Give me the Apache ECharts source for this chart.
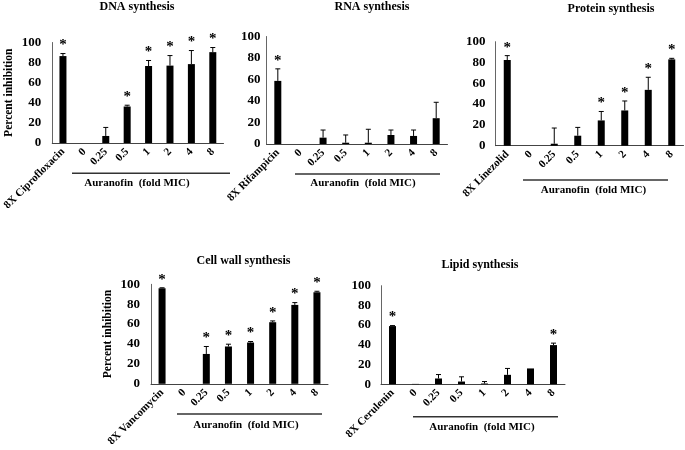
<!DOCTYPE html>
<html><head><meta charset="utf-8">
<script src="https://cdn.jsdelivr.net/npm/echarts@6/dist/echarts.min.js"></script>
<style>html,body{margin:0;padding:0;background:#fff}#c{width:685px;height:450px}</style>
</head><body><div id="c"></div>
<script>
var doses = ['0', '0.25', '0.5', '1', '2', '4', '8'];
var controls = ['8X Ciprofloxacin', '8X Rifampicin', '8X Linezolid', '8X Vancomycin', '8X Cerulenin'];
var titles = ['DNA synthesis', 'RNA synthesis', 'Protein synthesis', 'Cell wall synthesis', 'Lipid synthesis'];
var yTicks = [0, 20, 40, 60, 80, 100];
var groupLabel = 'Auranofin  (fold MIC)';
var yName = 'Percent inhibition';

var dnaMean = [86.5, 0, 7, 36.3, 76.6, 77, 78.5, 90.4];
var dnaErr  = [2.5, 0, 8.5, 1.3, 5.5, 10, 13.5, 4.6];
var dnaSig  = [1, 0, 0, 1, 1, 1, 1, 1];

var rnaMean = [58.7, 0, 5.9, 1.2, 1.2, 8.4, 7.5, 24];
var rnaErr  = [11.2, 0, 7.1, 7.2, 12.5, 4.6, 5.5, 14.8];
var rnaSig  = [1, 0, 0, 0, 0, 0, 0, 0];

var protMean = [82.4, 0, 1.9, 9.6, 24.3, 33.9, 53.7, 83];
var protErr  = [4.2, 0, 15.1, 8, 8.6, 9.1, 12.1, 1];
var protSig  = [1, 0, 0, 0, 1, 1, 1, 1];

var wallMean = [96, 0, 30, 37.5, 41.5, 61.9, 79.3, 92];
var wallErr  = [0.5, 0, 7.5, 2.3, 1, 1.3, 2.3, 1];
var wallSig  = [1, 0, 1, 1, 1, 1, 1, 1];

var lipMean = [59, 0.3, 5.8, 2.7, 0.7, 9.5, 16, 39.7];
var lipErr  = [0.5, 0, 4, 4.8, 2, 6.5, 0, 2];
var lipSig  = [1, 0, 0, 0, 0, 0, 0, 1];

var means = [dnaMean, rnaMean, protMean, wallMean, lipMean];
var errs = [dnaErr, rnaErr, protErr, wallErr, lipErr];
var sigs = [dnaSig, rnaSig, protSig, wallSig, lipSig];

var FONT = '"Liberation Serif", "Times New Roman", serif';

var layout = [
  {grid: {left: 49.5, top: 42.5, width: 174, height: 100.5}, labelMargin: 11, title: {x: 137, y: 1},
   line: [72, 230, 173.3], group: [137, 183.5], yName: true},
  {grid: {left: 266.5, top: 36.5, width: 181, height: 107.5}, labelMargin: 6, title: {x: 372, y: 1},
   line: [295, 440, 174], group: [363, 183.5], yName: false},
  {grid: {left: 495.5, top: 41.7, width: 188, height: 104}, labelMargin: 10, title: {x: 611, y: 3},
   line: [523, 668, 180], group: [593.5, 190], yName: false},
  {grid: {left: 151, top: 284.3, width: 177, height: 99.5}, labelMargin: 11, title: {x: 243.5, y: 255},
   line: [177, 322, 414], group: [246, 425], yName: true},
  {grid: {left: 381, top: 285.7, width: 184, height: 98.5}, labelMargin: 10, title: {x: 480, y: 258.5},
   line: [413, 558, 416.7], group: [482, 427], yName: false}
];

var grid = [], xAxis = [], yAxis = [], series = [], title = [], graphic = [];
layout.forEach(function (L, i) {
  grid.push(L.grid);
  title.push({text: titles[i], left: L.title.x, top: L.title.y, textAlign: 'center', padding: 0,
    textStyle: {fontFamily: FONT, fontWeight: 'bold', fontSize: 12, color: '#000'}});
  xAxis.push({type: 'category', gridIndex: i, data: [controls[i]].concat(doses),
    axisLine: {lineStyle: {color: '#444', width: 1}}, axisTick: {show: false},
    axisLabel: {rotate: 45, interval: 0, margin: 7, fontFamily: FONT, fontWeight: 'bold', fontSize: 11, color: '#000'}});
  yAxis.push({type: 'value', gridIndex: i, min: 0, max: 100, interval: 20,
    name: L.yName ? yName : '', nameLocation: 'middle', nameGap: 37, nameRotate: 90,
    nameTextStyle: {fontFamily: FONT, fontWeight: 'bold', fontSize: 11.5, color: '#000'},
    axisLine: {show: true, lineStyle: {color: '#666', width: 1}}, axisTick: {show: false}, splitLine: {show: false},
    axisLabel: {margin: L.labelMargin, fontFamily: FONT, fontWeight: 'bold', fontSize: 13, color: '#000',
      formatter: function (v) { return yTicks.indexOf(v) >= 0 ? String(v) : ''; }}});
  series.push({type: 'bar', xAxisIndex: i, yAxisIndex: i, data: means[i], barWidth: 7,
    itemStyle: {color: '#000'}, silent: true, animation: false});
  var ed = means[i].map(function (m, k) { return [k, m, errs[i][k], sigs[i][k]]; });
  series.push({type: 'custom', xAxisIndex: i, yAxisIndex: i, data: ed, animation: false, silent: true,
    renderItem: function (params, api) {
      var k = api.value(0), m = api.value(1), e = api.value(2), s = api.value(3);
      var p0 = api.coord([k, m]), p1 = api.coord([k, m + e]);
      var ch = [];
      if (e > 0) {
        ch.push({type: 'line', shape: {x1: p0[0], y1: p0[1], x2: p1[0], y2: p1[1]}, style: {stroke: '#000', lineWidth: 1}});
        ch.push({type: 'line', shape: {x1: p1[0] - 2.5, y1: p1[1], x2: p1[0] + 2.5, y2: p1[1]}, style: {stroke: '#000', lineWidth: 1}});
      }
      if (s) {
        ch.push({type: 'text', style: {text: '*', x: p1[0], y: p1[1] - 8, align: 'center', verticalAlign: 'middle',
          font: 'bold 15px ' + FONT, fill: '#000'}});
      }
      return {type: 'group', children: ch};
    }});
  graphic.push({type: 'line', shape: {x1: L.line[0], y1: L.line[2], x2: L.line[1], y2: L.line[2]},
    style: {stroke: '#333', lineWidth: 1.5}});
  graphic.push({type: 'text', x: L.group[0], y: L.group[1],
    style: {text: groupLabel, align: 'center', verticalAlign: 'middle', font: 'bold 11px ' + FONT, fill: '#000'}});
});

var chart = echarts.init(document.getElementById('c'), null, {renderer: 'canvas'});
chart.setOption({backgroundColor: '#fff', animation: false, title: title, grid: grid, xAxis: xAxis, yAxis: yAxis, series: series, graphic: graphic});
</script></body></html>
